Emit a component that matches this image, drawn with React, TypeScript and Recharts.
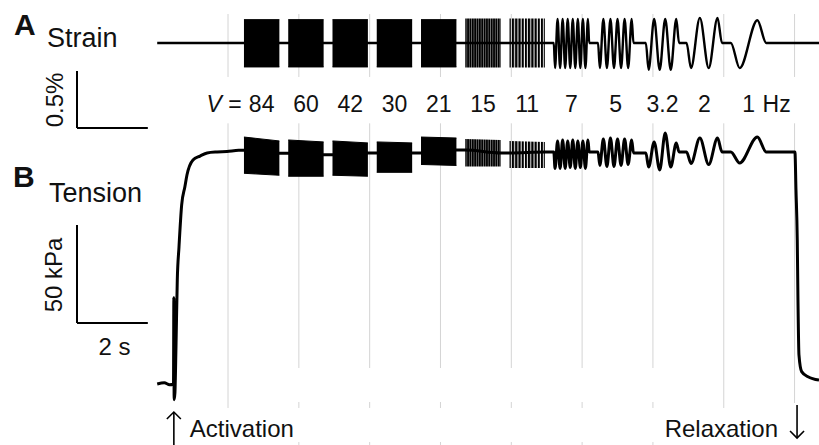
import { ComposedChart, Line, Area, XAxis, YAxis, ReferenceLine } from 'recharts'

const W = 819
const H = 445
const FONT = '"Liberation Sans", Arial, Helvetica, sans-serif'

// time axis in s, 0 = first grey line, lines every 2 s
const T0 = -6.44
const T1 = 16.69
const gridTimes = [0, 2, 4, 6, 8, 10, 12, 14, 16]

// the burst sequence, V = 84 ... 1 Hz
const freqLabels = ['84', '60', '42', '30', '21', '15', '11', '7', '5', '3.2', '2', '1']
const freqHz = [84, 60, 42, 30, 21, 15, 11, 7, 5, 3.2, 2, 1]
const burstCycles = [84, 60, 42, 30, 21, 15, 11, 7, 5, 3, 2, 1]
const burstStart = [0.45, 1.7, 2.95, 4.2, 5.45, 6.7, 7.95, 9.2, 10.45, 11.8, 12.95, 14.2]

// fast bursts (84-11 Hz) are read as envelopes
const strainTop = [0.205, 0.205, 0.205, 0.205, 0.205, 0.215, 0.215]
const strainBottom = [-0.21, -0.21, -0.21, -0.21, -0.21, -0.215, -0.215]
const tensionTopStart = [126, 124.5, 124, 123.5, 126, 125, 124]
const tensionTopEnd = [124, 123.5, 123, 123, 125.5, 124.5, 123.5]
const tensionBottomStart = [107.5, 106, 106.5, 108, 112, 111, 110.2]
const tensionBottomEnd = [106.5, 106, 106, 108, 111.5, 111, 110.2]

// slow bursts (7-1 Hz): every trough and peak, strain in %
const strain7 = [-0.22, 0.21, -0.22, 0.21, -0.22, 0.21, -0.22, 0.21, -0.22, 0.21, -0.22, 0.21, -0.22, 0.21]
const strain5 = [-0.22, 0.21, -0.22, 0.21, -0.22, 0.21, -0.22, 0.21, -0.22, 0.21]
const strain3 = [-0.235, 0.21, -0.235, 0.21, -0.235, 0.21]
const strain2 = [-0.22, 0.22, -0.22, 0.22]
const strain1 = [-0.22, 0.2]

// same for tension, kPa
const tension7 = [110, 124, 110, 124.5, 110, 124, 110.5, 124.5, 110, 124, 110.5, 124, 110, 124.5]
const tension5 = [111.5, 125, 111, 125.5, 111, 125, 111.5, 125, 112, 124.5]
const tension3 = [110.7, 123.5, 109.2, 128, 110.7, 123]
const tension2 = [112.5, 125.5, 112, 125.5]
const tension1 = [112.8, 126]

// tension between bursts (before each burst, then after the last)
const tensionRest = [119.2, 117.7, 116.9, 117.9, 117.9, 119.4, 117.9, 118.4, 118.4, 117.9, 118.4, 118.4, 118.4]

// activation and relaxation
const riseTime = [-2.0, -1.8, -1.65, -1.54, -1.53, -1.522, -1.5, -1.47, -1.433, -1.385, -1.31, -1.22, -1.16, -0.99, -0.79, -0.59, -0.31, -0.03, 0.3]
const riseTension = [0, 0.6, -0.4, 0, 44, -8, -4.6, 18.9, 53.1, 69.9, 91.3, 100.5, 106.6, 114.3, 116.3, 117.9, 118.4, 118.6, 119.2]
const relaxTime = [16.01, 16.04, 16.076, 16.096, 16.124, 16.2, 16.38, 16.69]
const relaxTension = [118.4, 98.9, 73.5, 42.9, 14.8, 6.3, 3.7, 2.0]

const eventTimes = [-1.53, 16.07]
const eventLabels = ['Activation', 'Relaxation']

const strainSwings = [strain7, strain5, strain3, strain2, strain1]
const tensionSwings = [tension7, tension5, tension3, tension2, tension1]
const fastIdx = [0, 1, 2, 3, 4, 5, 6]

// y scales: strain chart uses the full height, tension plot starts at 123px
const S_MAX = 0.3772
const S_MIN = -3.5263
const K_MAX = 133.16
const K_MIN = -31.12
const K_FULL_MAX = 195.92
const BAR_T = -4.265

type Row = { t: number; [k: string]: any }

function burstEnd(i: number) {
  return burstStart[i] + burstCycles[i] / freqHz[i]
}

function buildStrain(): Row[] {
  const rows: Row[] = [{ t: -2.0, s: 0 }]
  burstStart.forEach((t0, i) => {
    const t1 = burstEnd(i)
    if (i < 7) {
      rows.push({ t: t0, s: 0, ['b' + i]: [strainBottom[i], strainTop[i]] })
      rows.push({ t: t1, s: 0, ['b' + i]: [strainBottom[i], strainTop[i]] })
    } else {
      const sw = strainSwings[i - 7]
      rows.push({ t: t0, s: 0 })
      sw.forEach((v, k) => rows.push({ t: t0 + ((k + 0.5) * (t1 - t0)) / sw.length, s: v }))
      rows.push({ t: t1, s: 0 })
    }
  })
  rows.push({ t: T1, s: 0 })
  return rows
}

function buildTension(): Row[] {
  const rows: Row[] = riseTime.map((t, i) => ({ t, f: riseTension[i] }))
  burstStart.forEach((t0, i) => {
    const t1 = burstEnd(i)
    if (i < 7) {
      rows.push({ t: t0, f: tensionRest[i], ['b' + i]: [tensionBottomStart[i], tensionTopStart[i]] })
      rows.push({ t: t1, f: tensionRest[i + 1], ['b' + i]: [tensionBottomEnd[i], tensionTopEnd[i]] })
    } else {
      const sw = tensionSwings[i - 7]
      rows.push({ t: t0, f: tensionRest[i] })
      sw.forEach((v, k) => rows.push({ t: t0 + ((k + 0.5) * (t1 - t0)) / sw.length, f: v }))
      rows.push({ t: t1, f: tensionRest[i + 1] })
    }
  })
  relaxTime.forEach((t, i) => rows.push({ t, f: relaxTension[i] }))
  return rows
}

const strainRows = buildStrain()
const tensionRows = buildTension()
const burstCenters = burstStart.map((t, i) => (t + burstEnd(i)) / 2)

function fillFor(i: number, p: string) {
  if (i === 5) return `url(#${p}15)`
  if (i === 6) return `url(#${p}11)`
  return '#000'
}

function Hatches({ p }: { p: string }) {
  return (
    <defs>
      <pattern id={p + '15'} patternUnits="userSpaceOnUse" width={2.36} height={8}>
        <rect width={2.0} height={8} fill="#000" />
      </pattern>
      <pattern id={p + '11'} patternUnits="userSpaceOnUse" width={3.22} height={8}>
        <rect width={2.2} height={8} fill="#000" />
      </pattern>
    </defs>
  )
}

function FreqTick(props: any) {
  const { x, y, index } = props
  const base = y - 11
  const last = freqLabels.length - 1
  return (
    <g>
      <text x={x} y={base} textAnchor="middle" fontFamily={FONT} fontSize={23} fill="#111">
        {freqLabels[index]}
      </text>
      {index === 0 && (
        <text x={x - 20} y={base} textAnchor="end" fontFamily={FONT} fontSize={23} fill="#111">
          <tspan fontStyle="italic">V</tspan> =
        </text>
      )}
      {index === last && (
        <text x={x + 14} y={base} fontFamily={FONT} fontSize={23} fill="#111">
          Hz
        </text>
      )}
    </g>
  )
}

function EventArrow(props: any) {
  const { x1, y1, x2, y2, text, left } = props
  const d = y2 < y1 ? 1 : -1
  return (
    <g>
      <line x1={x1} y1={y1} x2={x2} y2={y2} stroke="#000" strokeWidth={1.6} />
      <polyline
        points={`${x2 - 7},${y2 + 7 * d} ${x2},${y2} ${x2 + 7},${y2 + 7 * d}`}
        fill="none"
        stroke="#000"
        strokeWidth={1.6}
      />
      <text
        x={left ? x2 - 19 : x2 + 16}
        y={436.7}
        textAnchor={left ? 'end' : 'start'}
        fontFamily={FONT}
        fontSize={24}
        fill="#111"
      >
        {text}
      </text>
    </g>
  )
}

const GRID = '#d4d4d4'
const label = (extra: React.CSSProperties): React.CSSProperties => ({
  position: 'absolute',
  lineHeight: 1,
  whiteSpace: 'nowrap',
  color: '#111',
  fontFamily: FONT,
  ...extra,
})
const layer: React.CSSProperties = { position: 'absolute', left: 0, top: 0 }
const noMargin = { top: 0, right: 0, bottom: 0, left: 0 }

export default function App() {
  return (
    <div
      style={{
        position: 'absolute',
        left: 0,
        top: 0,
        width: W,
        height: H,
        background: '#fff',
        overflow: 'hidden',
        fontFamily: FONT,
      }}
    >
      {/* grey time lines, every 2 s, behind both traces */}
      <div style={layer}>
        <ComposedChart width={W} height={H} data={strainRows} margin={noMargin}>
          <XAxis type="number" dataKey="t" domain={[T0, T1]} allowDataOverflow hide />
          <YAxis yAxisId="s" type="number" domain={[S_MIN, S_MAX]} allowDataOverflow hide />
          <YAxis yAxisId="k" type="number" domain={[K_MIN, K_FULL_MAX]} allowDataOverflow hide />
          {gridTimes.map((t) => (
            <ReferenceLine
              key={'sg' + t}
              yAxisId="s"
              segment={[{ x: t, y: 0.2544 }, { x: t, y: -0.2982 }]}
              stroke={GRID}
              ifOverflow="visible"
            />
          ))}
          {gridTimes.map((t) =>
            t === 0 || t === 14 || t === 16 ? (
              <ReferenceLine
                key={'g' + t}
                yAxisId="k"
                segment={[{ x: t, y: 133 }, { x: t, y: t === 16 ? -9.7 : -12.24 }]}
                stroke={GRID}
                ifOverflow="visible"
              />
            ) : (
              [
                <ReferenceLine key={'ga' + t} yAxisId="k" segment={[{ x: t, y: 133 }, { x: t, y: 8.16 }]} stroke={GRID} ifOverflow="visible" />,
                <ReferenceLine key={'gb' + t} yAxisId="k" segment={[{ x: t, y: -9.18 }, { x: t, y: -12.24 }]} stroke={GRID} ifOverflow="visible" />,
                <ReferenceLine key={'gc' + t} yAxisId="k" segment={[{ x: t, y: -29.6 }, { x: t, y: -31.1 }]} stroke={GRID} ifOverflow="visible" />,
              ]
            )
          )}
        </ComposedChart>
      </div>

      {/* B: tension, with the V = ... Hz row as its top axis */}
      <div style={layer}>
        <ComposedChart width={W} height={H} data={tensionRows} margin={noMargin}>
          <Hatches p="kh" />
          <XAxis
            type="number"
            dataKey="t"
            domain={[T0, T1]}
            allowDataOverflow
            orientation="top"
            height={123}
            ticks={burstCenters}
            interval={0}
            axisLine={false}
            tickLine={false}
            tickSize={0}
            tickMargin={0}
            tick={FreqTick}
          />
          <YAxis type="number" domain={[K_MIN, K_MAX]} allowDataOverflow hide />
          <ReferenceLine segment={[{ x: BAR_T, y: 81.12 }, { x: BAR_T, y: 31.12 }]} stroke="#000" strokeWidth={2} ifOverflow="visible" />
          <ReferenceLine segment={[{ x: BAR_T, y: 31.12 }, { x: BAR_T + 2, y: 31.12 }]} stroke="#000" strokeWidth={2} ifOverflow="visible" />
          <ReferenceLine
            segment={[{ x: eventTimes[0], y: -31.1 }, { x: eventTimes[0], y: -14.29 }]}
            ifOverflow="visible"
            shape={(p: any) => <EventArrow {...p} text={eventLabels[0]} />}
          />
          <ReferenceLine
            segment={[{ x: eventTimes[1], y: -10.71 }, { x: eventTimes[1], y: -27.55 }]}
            ifOverflow="visible"
            shape={(p: any) => <EventArrow {...p} text={eventLabels[1]} left />}
          />
          {fastIdx.map((i) => (
            <Area
              key={'kb' + i}
              dataKey={'b' + i}
              type="linear"
              stroke={i < 5 ? '#000' : 'none'}
              strokeWidth={1}
              fill={fillFor(i, 'kh')}
              fillOpacity={1}
              dot={false}
              activeDot={false}
              isAnimationActive={false}
            />
          ))}
          <Line
            dataKey="f"
            type="monotone"
            stroke="#000"
            strokeWidth={3}
            strokeLinejoin="round"
            dot={false}
            activeDot={false}
            connectNulls
            isAnimationActive={false}
          />
        </ComposedChart>
      </div>

      {/* A: strain */}
      <div style={layer}>
        <ComposedChart width={W} height={H} data={strainRows} margin={noMargin}>
          <Hatches p="sh" />
          <XAxis type="number" dataKey="t" domain={[T0, T1]} allowDataOverflow hide />
          <YAxis type="number" domain={[S_MIN, S_MAX]} allowDataOverflow hide />
          <ReferenceLine segment={[{ x: BAR_T, y: -0.2456 }, { x: BAR_T, y: -0.7456 }]} stroke="#000" strokeWidth={2} ifOverflow="visible" />
          <ReferenceLine segment={[{ x: BAR_T, y: -0.7456 }, { x: BAR_T + 2, y: -0.7456 }]} stroke="#000" strokeWidth={2} ifOverflow="visible" />
          {fastIdx.map((i) => (
            <Area
              key={'sb' + i}
              dataKey={'b' + i}
              type="linear"
              stroke={i < 5 ? '#000' : 'none'}
              strokeWidth={1}
              fill={fillFor(i, 'sh')}
              fillOpacity={1}
              dot={false}
              activeDot={false}
              isAnimationActive={false}
            />
          ))}
          <Line
            dataKey="s"
            type="monotone"
            stroke="#000"
            strokeWidth={2.4}
            strokeLinejoin="round"
            dot={false}
            activeDot={false}
            connectNulls
            isAnimationActive={false}
          />
        </ComposedChart>
      </div>

      <div style={label({ left: 14, top: 9.6, fontSize: 30, fontWeight: 'bold' })}>A</div>
      <div style={label({ left: 47, top: 25, fontSize: 27 })}>Strain</div>
      <div style={label({ left: 13, top: 161.6, fontSize: 30, fontWeight: 'bold' })}>B</div>
      <div style={label({ left: 49, top: 180, fontSize: 27 })}>Tension</div>
      <div style={label({ left: 55, top: 100, fontSize: 24, transform: 'translate(-50%, -50%) rotate(-90deg)' })}>
        0.5%
      </div>
      <div style={label({ left: 54, top: 274.5, fontSize: 24, transform: 'translate(-50%, -50%) rotate(-90deg)' })}>
        50 kPa
      </div>
      <div style={label({ left: 98.5, top: 334.7, fontSize: 24 })}>2 s</div>
    </div>
  )
}
